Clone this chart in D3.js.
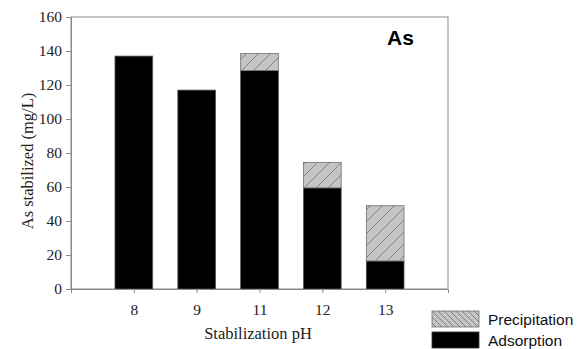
<!DOCTYPE html>
<html>
<head>
<meta charset="utf-8">
<script src="https://cdn.jsdelivr.net/npm/d3@7"></script>
<style>
  body { margin: 0; background: #fff; }
</style>
</head>
<body>
<div id="chart"></div>
<script>
const SVG_WIDTH = 581;
const SVG_HEIGHT = 349;
const MARGIN = { top: 17, right: 133, bottom: 60, left: 71 };

const categories = ["8", "9", "11", "12", "13"];
const adsorption = [137, 117, 128.5, 59.5, 16.5];
const precipitation = [0, 0, 10, 15, 32.5];
const yTicks = [0, 20, 40, 60, 80, 100, 120, 140, 160];

const svg = d3.select("#chart").append("svg")
    .attr("width", SVG_WIDTH)
    .attr("height", SVG_HEIGHT);

const defs = svg.append("defs");
const addHatch = (id, size, dir) => {
    const p = defs.append("pattern")
        .attr("id", id)
        .attr("patternUnits", "userSpaceOnUse")
        .attr("width", size)
        .attr("height", size);
    p.append("rect").attr("width", size).attr("height", size).attr("fill", "#c4c4c4");
    const d = dir > 0
        ? `M0,${size} L${size},0 M${-size / 2},${size / 2} L${size / 2},${-size / 2} M${size / 2},${size * 1.5} L${size * 1.5},${size / 2}`
        : `M0,0 L${size},${size} M${-size / 2},${size / 2} L${size / 2},${size * 1.5} M${size / 2},${-size / 2} L${size * 1.5},${size / 2}`;
    p.append("path").attr("d", d).attr("stroke", "#707070").attr("stroke-width", 0.8);
};
addHatch("hatchBar", 12, 1);
addHatch("hatchLegend", 6, -1);

const x = d3.scalePoint()
    .domain(categories)
    .range([MARGIN.left, SVG_WIDTH - MARGIN.right])
    .padding(1);

const y = d3.scaleLinear()
    .domain([0, 160])
    .range([SVG_HEIGHT - MARGIN.bottom, MARGIN.top]);

const barWidth = x.step() * 0.6;

// frame
svg.append("rect")
    .attr("x", MARGIN.left)
    .attr("y", MARGIN.top)
    .attr("width", SVG_WIDTH - MARGIN.right - MARGIN.left)
    .attr("height", SVG_HEIGHT - MARGIN.bottom - MARGIN.top)
    .attr("fill", "none")
    .attr("stroke", "#8a8a8a")
    .attr("stroke-width", 1);

// bars
const data = categories.map((c, i) => ({ c, a: adsorption[i], p: precipitation[i] }));

svg.selectAll(".ads")
    .data(data)
    .enter().append("rect")
    .attr("x", d => x(d.c) - barWidth / 2)
    .attr("y", d => y(d.a))
    .attr("width", barWidth)
    .attr("height", d => y(0) - y(d.a))
    .attr("fill", "#000")
    .attr("stroke", "#555")
    .attr("stroke-width", 0.8);

svg.selectAll(".prec")
    .data(data.filter(d => d.p > 0))
    .enter().append("rect")
    .attr("x", d => x(d.c) - barWidth / 2)
    .attr("y", d => y(d.a + d.p))
    .attr("width", barWidth)
    .attr("height", d => y(d.a) - y(d.a + d.p))
    .attr("fill", "url(#hatchBar)")
    .attr("stroke", "#707070")
    .attr("stroke-width", 0.8);

// axes
const yAxis = svg.append("g")
    .attr("transform", `translate(${MARGIN.left},0)`)
    .call(d3.axisLeft(y).tickValues(yTicks).tickSize(5).tickPadding(4));

const xAxis = svg.append("g")
    .attr("transform", `translate(0,${SVG_HEIGHT - MARGIN.bottom})`)
    .call(d3.axisBottom(x).tickSize(4).tickPadding(11));

[yAxis, xAxis].forEach(g => {
    g.select(".domain").attr("stroke", "#8a8a8a");
    g.selectAll(".tick line").attr("stroke", "#8a8a8a");
    g.selectAll("text")
        .attr("fill", "#222")
        .style("font-family", "'Liberation Serif', 'Times New Roman', serif")
        .style("font-size", "15.5px");
});

svg.append("text")
    .attr("transform", "translate(27,161) rotate(-90)")
    .attr("text-anchor", "middle")
    .attr("dominant-baseline", "central")
    .style("font-family", "'Liberation Serif', 'Times New Roman', serif")
    .style("font-size", "16.5px")
    .attr("fill", "#222")
    .text("As stabilized (mg/L)");

svg.append("text")
    .attr("x", 258)
    .attr("y", 339)
    .attr("text-anchor", "middle")
    .style("font-family", "'Liberation Serif', 'Times New Roman', serif")
    .style("font-size", "16.5px")
    .attr("fill", "#222")
    .text("Stabilization pH");

svg.append("text")
    .attr("x", 387)
    .attr("y", 45)
    .style("font-family", "'Liberation Sans', Arial, sans-serif")
    .style("font-weight", "bold")
    .style("font-size", "21px")
    .attr("fill", "#000")
    .text("As");

// legend
const legendItems = [
    { label: "Precipitation", fill: "url(#hatchLegend)", stroke: "#707070" },
    { label: "Adsorption", fill: "#000", stroke: "#333" }
];
const legend = svg.append("g").attr("transform", "translate(432,311)");
legend.selectAll("rect")
    .data(legendItems)
    .enter().append("rect")
    .attr("x", 0)
    .attr("y", (d, i) => i * 21)
    .attr("width", 47)
    .attr("height", 16)
    .attr("fill", d => d.fill)
    .attr("stroke", d => d.stroke)
    .attr("stroke-width", 0.8);
legend.selectAll("text")
    .data(legendItems)
    .enter().append("text")
    .attr("x", 56)
    .attr("y", (d, i) => i * 21 + 14)
    .style("font-family", "'Liberation Sans', Arial, sans-serif")
    .style("font-size", "15.5px")
    .attr("fill", "#111")
    .text(d => d.label);
</script>
</body>
</html>
